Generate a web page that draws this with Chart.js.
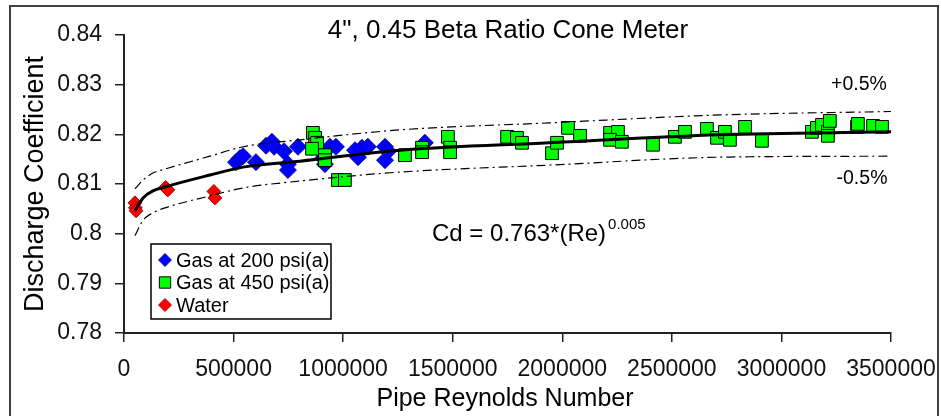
<!DOCTYPE html>
<html lang="en">
<head>
  <meta charset="UTF-8" />
  <title>4", 0.45 Beta Ratio Cone Meter</title>
  <script src="https://cdn.jsdelivr.net/npm/chart.js"></script>
  <style>
    html, body {
      margin: 0;
      padding: 0;
      background: #ffffff;
    }
    #wrap {
      width: 941px;
      height: 416px;
    }
  </style>
</head>
<body>
  <div id="wrap"><canvas id="cdChart" width="941" height="416"></canvas></div>

  <script>
    // Gas at 200 psi(a)
    const gas200Re = [511000, 529000, 543000, 602000, 648000, 675000, 685000, 730000, 794000, 748000, 748000,
      940000, 967000, 917000, 908000, 1054000, 1068000, 1086000, 1113000, 1191000, 1205000, 1191000, 1373000];
    const gas200Cd = [0.8144, 0.8152, 0.8156, 0.8144, 0.8177, 0.8185, 0.8175, 0.8166, 0.8175, 0.8140, 0.8128,
      0.8175, 0.8175, 0.8140, 0.8152, 0.8168, 0.8154, 0.8173, 0.8175, 0.8175, 0.8166, 0.8148, 0.8183];

    // Gas at 450 psi(a)
    const gas450Re = [862000, 872000, 881000, 858000, 917000, 917000, 976000, 1008000, 1282000, 1360000, 1360000,
      1478000, 1488000, 1488000, 1748000, 1793000, 1816000, 1953000, 1976000, 2026000, 2081000, 2218000, 2254000,
      2218000, 2272000, 2414000, 2514000, 2560000, 2660000, 2706000, 2742000, 2765000, 2834000, 2911000, 3139000,
      3162000, 3185000, 3212000, 3212000, 3221000, 3345000, 3349000, 3418000, 3459000];
    const gas450Cd = [0.8203, 0.8193, 0.8183, 0.8171, 0.8158, 0.8148, 0.8108, 0.8108, 0.8158, 0.8173, 0.8164,
      0.8195, 0.8173, 0.8164, 0.8195, 0.8193, 0.8183, 0.8162, 0.8183, 0.8213, 0.8197, 0.8203, 0.8205,
      0.8189, 0.8185, 0.8179, 0.8195, 0.8205, 0.8211, 0.8193, 0.8205, 0.8189, 0.8215, 0.8187, 0.8205,
      0.8213, 0.8219, 0.8205, 0.8197, 0.8227, 0.8215, 0.8221, 0.8217, 0.8215];

    // Water
    const waterRe = [50000, 52000, 55000, 190000, 200000, 410000, 415000];
    const waterCd = [0.8062, 0.8052, 0.8046, 0.8093, 0.8088, 0.8085, 0.8072];

    // Fit curve Cd = 0.763*(Re)^0.005 and +/-0.5% band
    const fitRe = [50000, 87000, 132000, 187000, 392000, 543000, 803000, 1260000, 1940000, 2720000, 3500000];
    const fitCd = [0.8046, 0.8072, 0.8086, 0.8094, 0.8118, 0.8134, 0.8146, 0.8168, 0.8183, 0.8199, 0.8205];
    const upperCd = [0.8090, 0.8108, 0.8122, 0.8130, 0.8156, 0.8175, 0.8189, 0.8209, 0.8223, 0.8239, 0.8246];
    const lowerCd = [0.7996, 0.8027, 0.8042, 0.8052, 0.8076, 0.8092, 0.8106, 0.8124, 0.8138, 0.8154, 0.8156];

    // Axis ticks
    const xTicks = [0, 500000, 1000000, 1500000, 2000000, 2500000, 3000000, 3500000];
    const yTicks = [0.78, 0.79, 0.80, 0.81, 0.82, 0.83, 0.84];

    const FONT = "'Liberation Sans', Arial, sans-serif";

    function toPoints(xs, ys) {
      return xs.map((x, i) => ({ x: x, y: ys[i] }));
    }

    // Title, axis titles, notes, legend and outer frame
    const decor = {
      id: 'decor',
      beforeDraw(chart) {
        const ctx = chart.ctx;
        ctx.save();
        ctx.fillStyle = '#ffffff';
        ctx.fillRect(0, 0, chart.width, chart.height);
        ctx.strokeStyle = '#404040';
        ctx.lineWidth = 2;
        ctx.strokeRect(10, 6, 928, 440);
        ctx.restore();
      },
      afterDraw(chart) {
        const ctx = chart.ctx;
        ctx.save();
        ctx.fillStyle = '#000000';
        ctx.textBaseline = 'middle';

        ctx.textAlign = 'center';
        ctx.font = '26px ' + FONT;
        ctx.fillText('4", 0.45 Beta Ratio Cone Meter', 508, 31);

        ctx.font = '25px ' + FONT;
        ctx.fillText('Pipe Reynolds Number', 505, 399);

        ctx.save();
        ctx.translate(36, 184);
        ctx.rotate(-Math.PI / 2);
        ctx.font = '27px ' + FONT;
        ctx.fillText('Discharge Coefficient', 0, 0);
        ctx.restore();

        ctx.font = '19.5px ' + FONT;
        ctx.fillText('+0.5%', 859, 85);
        ctx.fillText('-0.5%', 862, 179);

        // fit equation
        ctx.textAlign = 'left';
        ctx.font = '24px ' + FONT;
        const eq = 'Cd = 0.763*(Re)';
        ctx.fillText(eq, 432, 234);
        const w = ctx.measureText(eq).width;
        ctx.font = '15px ' + FONT;
        ctx.fillText('0.005', 432 + w + 2, 225);

        // legend
        ctx.fillStyle = '#ffffff';
        ctx.fillRect(151, 244, 180, 75);
        ctx.strokeStyle = '#000000';
        ctx.lineWidth = 1.5;
        ctx.strokeRect(151, 244, 180, 75);
        const rows = chart.data.datasets.filter(d => d.inLegend);
        rows.forEach((ds, i) => {
          const y = 260 + i * 22.5;
          ctx.fillStyle = ds.backgroundColor;
          ctx.strokeStyle = ds.borderColor;
          ctx.lineWidth = ds.borderWidth;
          Chart.helpers.drawPoint(ctx, {
            pointStyle: ds.pointStyle,
            radius: ds.legendRadius,
            rotation: 0,
            borderWidth: ds.borderWidth
          }, 165, y);
          ctx.fillStyle = '#000000';
          ctx.font = '20px ' + FONT;
          ctx.fillText(ds.label, 176, y + 1);
        });
        ctx.restore();
      }
    };

    const ctx = document.getElementById('cdChart').getContext('2d');

    new Chart(ctx, {
      type: 'scatter',
      data: {
        datasets: [
          {
            type: 'line',
            label: 'Fit',
            data: toPoints(fitRe, fitCd),
            borderColor: '#000000',
            borderWidth: 3,
            pointRadius: 0,
            cubicInterpolationMode: 'monotone',
            order: 0
          },
          {
            type: 'line',
            label: '+0.5%',
            data: toPoints(fitRe, upperCd),
            borderColor: '#000000',
            borderWidth: 1.2,
            borderDash: [9, 4, 2, 4],
            pointRadius: 0,
            cubicInterpolationMode: 'monotone',
            order: 0
          },
          {
            type: 'line',
            label: '-0.5%',
            data: toPoints(fitRe, lowerCd),
            borderColor: '#000000',
            borderWidth: 1.2,
            borderDash: [9, 4, 2, 4],
            pointRadius: 0,
            cubicInterpolationMode: 'monotone',
            order: 0
          },
          {
            label: 'Gas at 200 psi(a)',
            inLegend: true,
            data: toPoints(gas200Re, gas200Cd),
            pointStyle: 'rectRot',
            pointRadius: 8.5,
            legendRadius: 6.5,
            backgroundColor: '#0000ff',
            borderColor: '#000080',
            borderWidth: 0.8,
            order: 2
          },
          {
            label: 'Gas at 450 psi(a)',
            inLegend: true,
            data: toPoints(gas450Re, gas450Cd),
            pointStyle: 'rect',
            pointRadius: 9,
            legendRadius: 8,
            backgroundColor: '#00ff00',
            borderColor: '#000000',
            borderWidth: 1,
            order: 1
          },
          {
            label: 'Water',
            inLegend: true,
            data: toPoints(waterRe, waterCd),
            pointStyle: 'rectRot',
            pointRadius: 7,
            legendRadius: 6.5,
            backgroundColor: '#ff0000',
            borderColor: '#800000',
            borderWidth: 0.8,
            order: 1
          }
        ]
      },
      options: {
        responsive: false,
        animation: false,
        layout: {
          autoPadding: false,
          padding: { left: 0, top: 35, right: 50, bottom: 0 }
        },
        plugins: {
          legend: { display: false },
          tooltip: { enabled: false }
        },
        scales: {
          x: {
            type: 'linear',
            min: 0,
            max: 3500000,
            afterBuildTicks: s => { s.ticks = xTicks.map(v => ({ value: v })); },
            afterFit: s => {
              s.height = 83;
              s.paddingLeft = 0;
              s.paddingRight = 50;
            },
            ticks: {
              color: '#111111',
              font: { family: FONT, size: 23 },
              padding: 14,
              maxRotation: 0,
              callback: v => String(v)
            },
            grid: { drawOnChartArea: false, drawTicks: true, tickLength: 9, color: '#222222', lineWidth: 1.5 },
            border: { display: true, color: '#222222', width: 2 }
          },
          y: {
            min: 0.78,
            max: 0.84,
            afterBuildTicks: s => { s.ticks = yTicks.map(v => ({ value: v })); },
            afterFit: s => {
              s.width = 124;
              s.paddingTop = 0;
              s.paddingBottom = 0;
            },
            ticks: {
              color: '#111111',
              font: { family: FONT, size: 23 },
              padding: 13,
              callback: v => String(+v.toFixed(2))
            },
            grid: { drawOnChartArea: false, drawTicks: true, tickLength: 9, color: '#222222', lineWidth: 1.5 },
            border: { display: true, color: '#222222', width: 2 }
          }
        }
      },
      plugins: [decor]
    });
  </script>
</body>
</html>
